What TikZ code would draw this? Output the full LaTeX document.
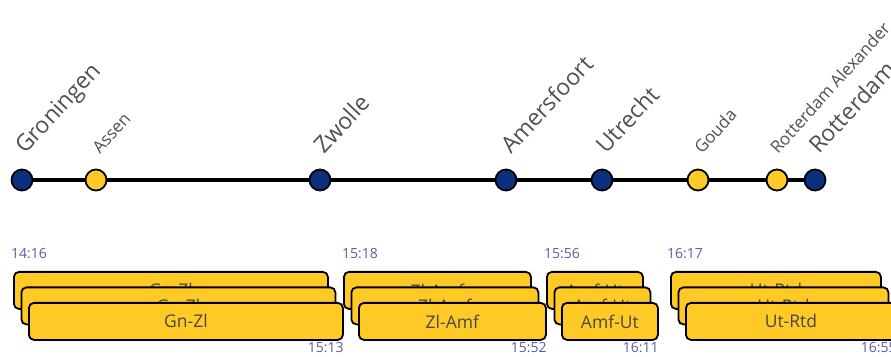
\documentclass[tikz,border=0pt]{standalone}
\usepackage{fontspec}
\setmainfont{Open Sans}
\definecolor{nsblue}{HTML}{0A2F7E}
\definecolor{nsyellow}{HTML}{FFC926}
\definecolor{lbl}{HTML}{505050}
\definecolor{tm}{HTML}{5C5CA6}
\tikzset{
  station/.style={circle, draw=black, line width=1.8pt, minimum size=21pt, inner sep=0pt},
  major/.style={station, fill=nsblue},
  minor/.style={station, fill=nsyellow},
  biglbl/.style={rotate=47, anchor=base west, inner sep=0pt, text=lbl, font=\fontsize{23}{23}\selectfont},
  smalllbl/.style={rotate=48, anchor=base west, inner sep=0pt, text=lbl, font=\fontsize{17}{17}\selectfont},
  leg/.style={draw=black, line width=1.8pt, fill=nsyellow, rounded corners=5pt, minimum height=37pt, inner sep=0pt, anchor=north west, text=black!72, font=\fontsize{17.5}{17.5}\selectfont},
  tstart/.style={anchor=base west, inner sep=0pt, text=tm, font=\fontsize{14}{14}\selectfont},
  tend/.style={anchor=base east, inner sep=0pt, text=tm, font=\fontsize{14}{14}\selectfont},
}
\begin{document}
\begin{tikzpicture}[x=1pt,y=1pt]
\useasboundingbox (0,0) rectangle (891,356);
\clip (0,0) rectangle (891,356);
% stations
\coordinate (gn) at (22,176);
\coordinate (asn) at (96,176);
\coordinate (zl) at (320,176);
\coordinate (amf) at (506,176);
\coordinate (ut) at (602,176);
\coordinate (gd) at (698,176);
\coordinate (rta) at (777,176);
\coordinate (rtd) at (815,176);
\draw[line width=4pt] (gn) -- (rtd);
\node[major] (sgn) at (gn) {};
\node[minor] (sasn) at (asn) {};
\node[major] (szl) at (zl) {};
\node[major] (samf) at (amf) {};
\node[major] (sut) at (ut) {};
\node[minor] (sgd) at (gd) {};
\node[minor] (srta) at (rta) {};
\node[major] (srtd) at (rtd) {};
% labels
\node[biglbl] (lgn) at (25,201) {Groningen};
\node[smalllbl] (lasn) at (100,201) {Assen};
\node[biglbl] (lzl) at (324,201) {Zwolle};
\node[biglbl] (lamf) at (511,201) {Amersfoort};
\node[biglbl] (lut) at (606,201) {Utrecht};
\node[smalllbl] (lgd) at (702,201) {Gouda};
\node[smalllbl] (lrta) at (778,201) {Rotterdam Alexander};
\node[biglbl] (lrtd) at (819,201) {Rotterdam};
% legs
\foreach \nm/\x/\w/\t in {a/13/314/Gn-Zl, b/343/187/Zl-Amf, c/546/96/Amf-Ut, d/670/210/Ut-Rtd}{
  \node[leg, minimum width=\w pt] (\nm1) at (\x,85) {\t};
  \node[leg, minimum width=\w pt] (\nm2) at (\x+7.5,69.5) {\t};
  \node[leg, minimum width=\w pt] (\nm3) at (\x+15,54) {\t};
}
% times
\node[tstart] (t1) at (11,97) {14:16};
\node[tend] (t2) at (a3.south east) [yshift=-12pt] {15:13};
\node[tstart] (t3) at (342,97) {15:18};
\node[tend] (t4) at (b3.south east) [yshift=-12pt] {15:52};
\node[tstart] (t5) at (544,97) {15:56};
\node[tend] (t6) at (c3.south east) [yshift=-12pt] {16:11};
\node[tstart] (t7) at (667,97) {16:17};
\node[tend] (t8) at (d3.south east) [yshift=-12pt] {16:55};
\end{tikzpicture}
\end{document}
